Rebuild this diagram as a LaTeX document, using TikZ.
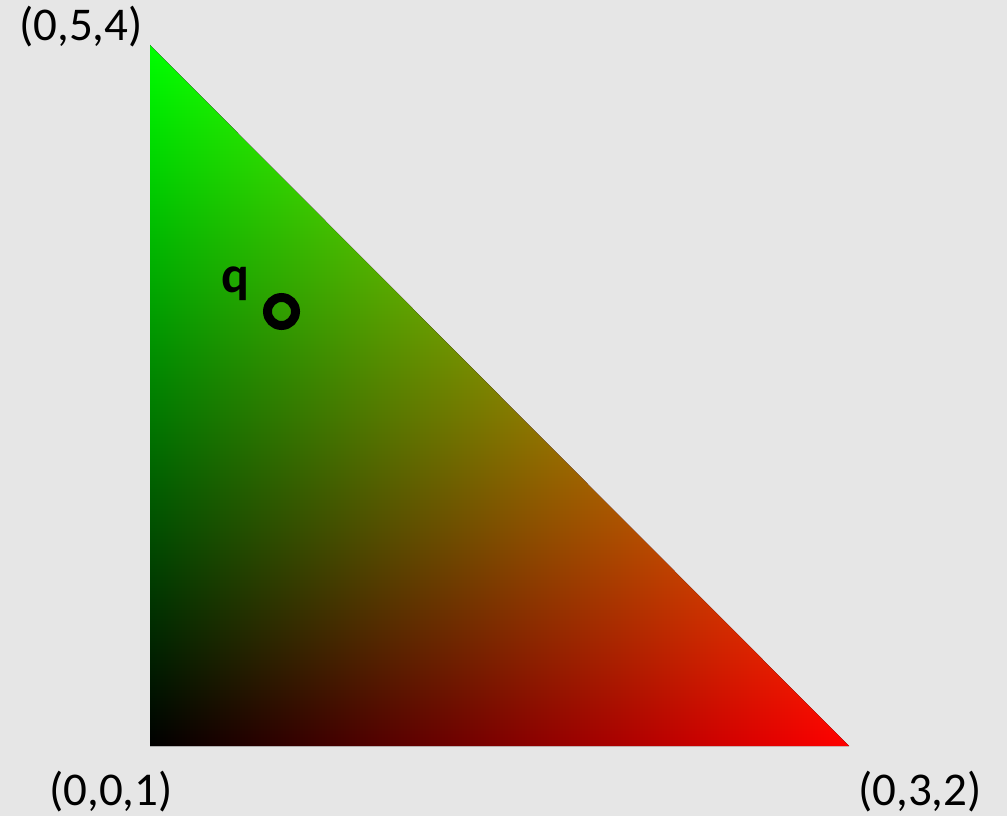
\documentclass[tikz,border=0pt]{standalone}
\usepackage{fontspec}
\setmainfont{Carlito}
\usetikzlibrary{positioning}
\definecolor{bggray}{RGB}{230,230,230}

\begin{document}
\begin{tikzpicture}[x=1pt,y=-1pt,
  vlabel/.style={inner sep=0pt,font=\fontsize{47}{56}\selectfont},
  mark ring/.style={circle,draw=black,line width=9pt,minimum size=28pt,inner sep=0pt}]
\fill[bggray] (0,0) rectangle (1007,816);
\useasboundingbox (0,0) rectangle (1007,816);
% corners of the triangle
\coordinate (ctop) at (150,45);
\coordinate (cleft) at (150,746);
\coordinate (cright) at (849,746);
% red rises to the right, green rises to the top
\fill[left color=black,right color=red] (ctop)--(cleft)--(cright)--cycle;
\begin{scope}[blend mode=screen]
\fill[top color=green,bottom color=black] (ctop)--(cleft)--(cright)--cycle;
\end{scope}
\node[vlabel] (ltop) at (81,27) {(0,5,4)};
\node[vlabel] (lleft) at (111,792) {(0,0,1)};
\node[vlabel] (lright) at (920,792) {(0,3,2)};
\node[mark ring] (qpt) at (281.5,311.5) {};
\node[inner sep=0pt,font=\bfseries\fontsize{52}{60}\selectfont] (qlabel) at (235,284) {q};
\end{tikzpicture}
\end{document}
